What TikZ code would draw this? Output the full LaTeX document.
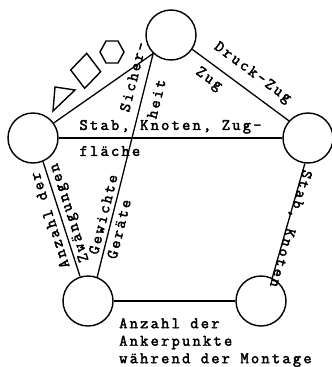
\documentclass[tikz,border=0pt]{standalone}
\usepackage{fontspec}
\newfontfamily\tw{lmmono12-regular}[Extension=.otf,LetterSpace=14,FakeBold=2.5]
\newcommand\lblfont[1]{\fontsize{16}{#1}\selectfont\tw}
\newcommand\notefont{\fontsize{16}{17.5}\selectfont\tw}
\tikzset{
  vertex/.style={circle, draw, line width=1.4pt, minimum size=50pt, inner sep=0pt},
  edge/.style={line width=1.3pt},
  straddle/.style={sloped, allow upside down, align=left, inner sep=0pt, font=\lblfont{#1}},
  straddle/.default=26,
  glyph/.style={line width=1.4pt, line join=miter},
}
\begin{document}
\begin{tikzpicture}[x=1pt, y=-1pt]
\useasboundingbox (0,0) rectangle (332,367);
% vertices
\node[vertex] (T)  at (171,35)  {};
\node[vertex] (L)  at (33,138)  {};
\node[vertex] (R)  at (308,138) {};
\node[vertex] (BL) at (88,301)  {};
\node[vertex] (BR) at (261,301) {};
% edges
\draw[edge] (T.226.5) -- (L.36);
\draw[edge] (T.-34) -- node[straddle=31, pos=.52, yshift=1pt] (lTR) {Druck-Zug\\Zug} (R.138);
\draw[edge] (L.east) -- node[straddle=26, pos=.5] (lLR) {Stab, Knoten, Zug-\\fläche} (R.west);
\draw[edge] (BL.69) -- node[straddle=19, pos=.27] (lG) {Gewichte\\Geräte}
                       node[straddle=28, pos=.88] (lS) {Sicher-\\heit} (T.226.5);
\draw[edge] (BL.108) -- node[straddle=20, pos=.53] (lA) {Anzahl der\\Zwängungen} (L.-67);
\draw[edge] (R.-97) -- node[straddle, pos=.56, anchor=south, yshift=-3pt] (lRB) {Stab, Knoten} (BR.64);
\draw[edge] (BL.east) -- (BR.west);
% bottom note
\node[anchor=north west, align=left, inner sep=0pt, font=\notefont] (note) at (119,318)
  {Anzahl der\\Ankerpunkte\\während der Montage};
% shapes along top-left edge
\draw[glyph] (55,87) -- (75,90) -- (53,111) -- cycle;
\draw[glyph] (70.7,70) -- (86.7,53.3) -- (100.7,71.7) -- (84.7,88.3) -- cycle;
\draw[glyph] (106,41) -- (118,41) -- (124,52) -- (118,63) -- (106,63) -- (100,52) -- cycle;
\end{tikzpicture}
\end{document}
